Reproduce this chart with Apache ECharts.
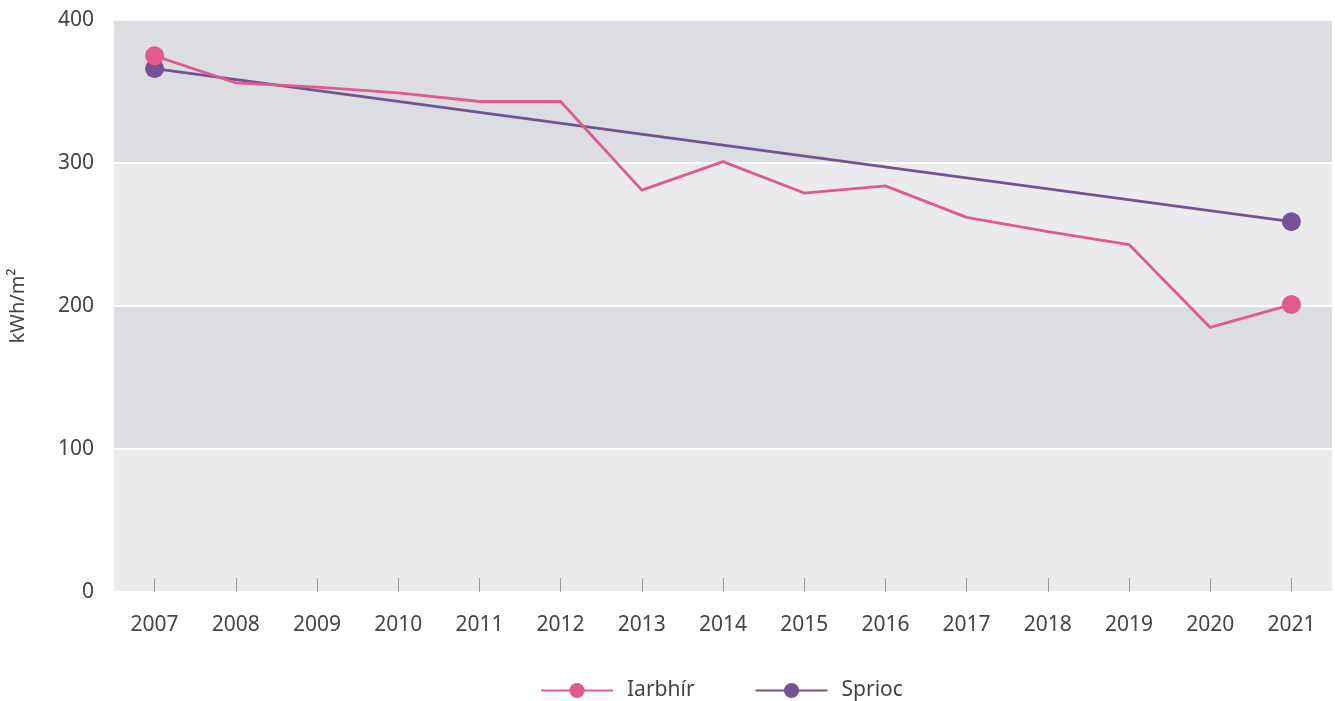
<!DOCTYPE html>
<html>
<head>
<meta charset="utf-8">
<script src="https://cdn.jsdelivr.net/npm/echarts@6/dist/echarts.min.js"></script>
<style>
  html, body { margin: 0; padding: 0; background: #fff; }
  #chart { width: 1335px; height: 701px; }
</style>
</head>
<body>
<div id="chart"></div>
<script>
var years = ['2007', '2008', '2009', '2010', '2011', '2012', '2013', '2014',
  '2015', '2016', '2017', '2018', '2019', '2020', '2021'];
var iarbhir = [375, 356, 353, 349, 343, 343, 281, 301, 279, 284, 262, 252, 243, 185, 201];
// target line: only the two end values are plotted, joined straight
var sprioc = [366, null, null, null, null, null, null, null, null, null, null, null, null, null, 259];

var pink = '#e05a8c';
var purple = '#735396';

function endDots(val, params) {
  return (params.dataIndex === 0 || params.dataIndex === years.length - 1) ? 19 : 0;
}

var option = {
  textStyle: { fontFamily: 'Noto Sans' },
  grid: { left: 113, right: 3, top: 20, bottom: 109 },
  legend: {
    top: 675,
    left: 535,
    itemWidth: 72,
    itemHeight: 19,
    itemGap: 60,
    textStyle: { fontSize: 21, color: '#444', padding: [0, 0, 0, 9] },
    data: ['Iarbhír', 'Sprioc']
  },
  xAxis: {
    type: 'category',
    data: years,
    axisLine: { show: false },
    axisTick: { show: true, inside: true, length: 14, alignWithLabel: true,
      lineStyle: { color: '#999' } },
    axisLabel: { fontSize: 21, color: '#444', margin: 23 }
  },
  yAxis: {
    type: 'value',
    min: 0,
    max: 400,
    interval: 100,
    name: 'kWh/m²',
    nameLocation: 'middle',
    nameGap: 86,
    nameTextStyle: { fontSize: 20, color: '#444' },
    axisLabel: { fontSize: 21, color: '#444', margin: 20 },
    splitLine: { lineStyle: { color: '#fff', width: 2 } },
    splitArea: { show: true, areaStyle: { color: ['#ebebee', '#dcdde0'] } }
  },
  series: [
    {
      name: 'Iarbhír',
      type: 'line',
      data: iarbhir,
      symbol: 'circle',
      symbolSize: endDots,
      color: pink,
      lineStyle: { width: 2.8, color: pink },
      itemStyle: { color: pink },
      z: 3
    },
    {
      name: 'Sprioc',
      type: 'line',
      data: sprioc,
      connectNulls: true,
      symbol: 'circle',
      symbolSize: 19,
      color: purple,
      lineStyle: { width: 2.8, color: purple },
      itemStyle: { color: purple },
      z: 2
    }
  ]
};

var myChart = echarts.init(document.getElementById('chart'));
myChart.setOption(option, true);
</script>
</body>
</html>
